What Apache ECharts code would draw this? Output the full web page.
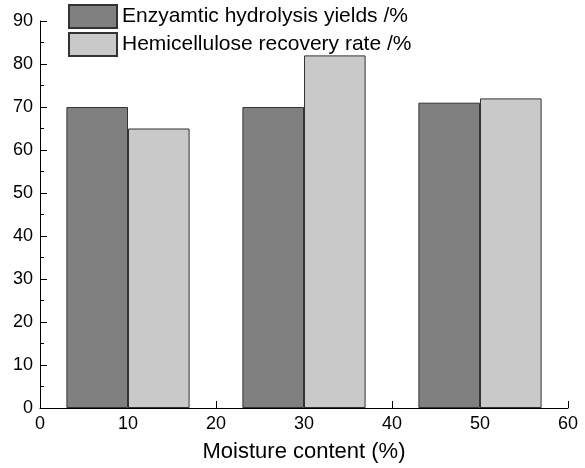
<!DOCTYPE html>
<html>
<head>
<meta charset="utf-8">
<script src="https://cdn.jsdelivr.net/npm/echarts@6/dist/echarts.min.js"></script>
<style>
  html, body { margin: 0; padding: 0; background: #fff; }
  #chart { width: 585px; height: 468px; }
</style>
</head>
<body>
<div id="chart"></div>
<script>
// moisture content groups (x positions)
var moisture = [10, 30, 50]
// enzymatic hydrolysis yields /%
var enzymatic = [70, 70, 71]
// hemicellulose recovery rate /%
var hemicellulose = [65, 82, 72]
var seriesNames = ['Enzyamtic hydrolysis yields /%', 'Hemicellulose recovery rate /%']

var chart = echarts.init(document.getElementById('chart'))
var font = 'Liberation Sans, Arial, sans-serif'

var axisCommon = {
  axisLine: { show: true, lineStyle: { color: '#000', width: 1 } },
  axisTick: { show: true, inside: true, length: 7, lineStyle: { color: '#000' } },
  minorTick: { show: true, splitNumber: 2, length: 4, lineStyle: { color: '#000' } },
  splitLine: { show: false },
  axisLabel: { color: '#000', fontSize: 18, fontFamily: font, margin: 7 }
}

var option = {
  animation: false,
  backgroundColor: '#fff',
  grid: { left: 40, right: 17, top: 21, bottom: 60 },
  legend: {
    orient: 'vertical',
    left: 68,
    top: 4,
    padding: 0,
    itemWidth: 48,
    itemHeight: 23,
    itemGap: 3,
    icon: 'rect',
    textStyle: { color: '#000', fontSize: 21, fontFamily: font },
    data: seriesNames
  },
  xAxis: Object.assign({}, axisCommon, {
    type: 'value',
    min: 0,
    max: 60,
    interval: 10,
    name: 'Moisture content (%)',
    nameLocation: 'middle',
    nameGap: 33,
    nameTextStyle: { color: '#000', fontSize: 22, fontFamily: font }
  }),
  yAxis: Object.assign({}, axisCommon, {
    type: 'value',
    min: 0,
    max: 90,
    interval: 10
  }),
  series: [
    {
      name: seriesNames[0],
      type: 'bar',
      barWidth: '35%',
      barGap: '0%',
      itemStyle: { color: '#808080', borderColor: '#333', borderWidth: 1 },
      data: moisture.map(function (m, i) { return [m, enzymatic[i]] })
    },
    {
      name: seriesNames[1],
      type: 'bar',
      barWidth: '35%',
      barGap: '0%',
      itemStyle: { color: '#c9c9c9', borderColor: '#333', borderWidth: 1 },
      data: moisture.map(function (m, i) { return [m, hemicellulose[i]] })
    }
  ]
}
chart.setOption(option)
</script>
</body>
</html>
